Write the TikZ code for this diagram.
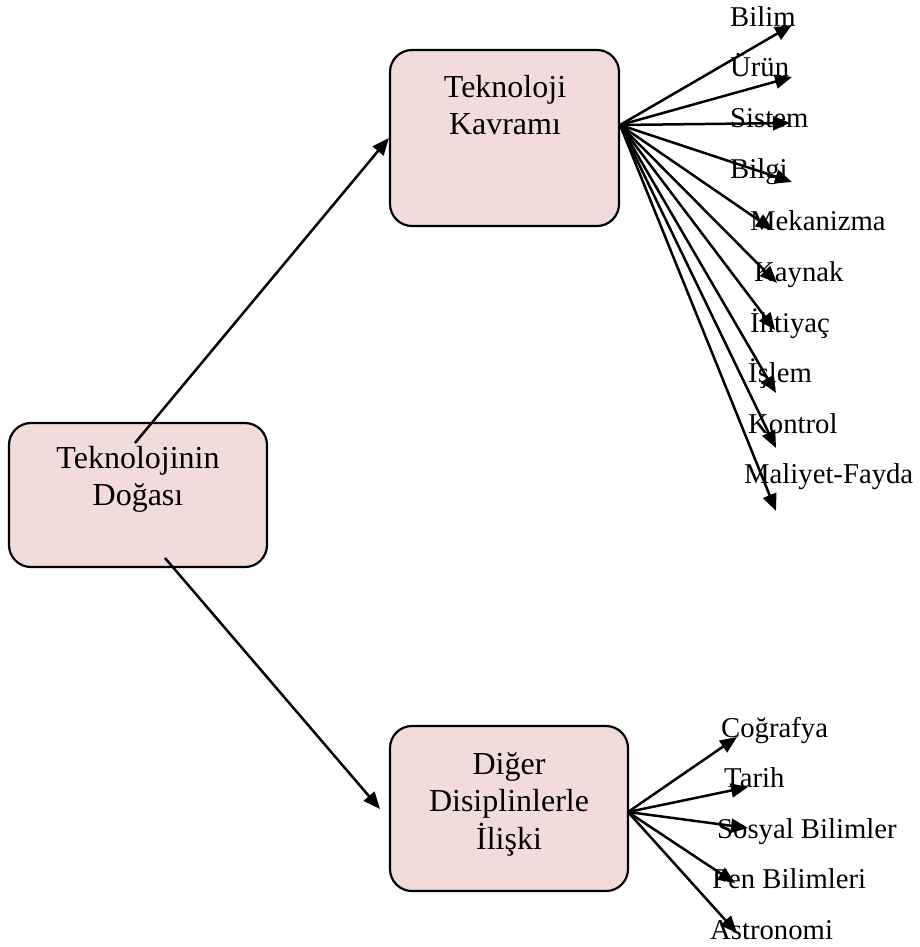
\documentclass[tikz,border=0pt]{standalone}
\usepackage{fontspec}
\setmainfont{Liberation Serif}
\usetikzlibrary{arrows.meta}
\definecolor{boxfill}{RGB}{242,220,219}
\begin{document}
\begin{tikzpicture}[x=1pt,y=-1pt,
  box/.style={draw=black, line width=2.2pt, fill=boxfill, rounded corners=22pt, inner sep=0pt},
  boxtext/.style={anchor=north, inner sep=0pt, align=center, font=\fontsize{32}{37.5}\selectfont},
  leaf/.style={anchor=base west, inner sep=0pt, font=\fontsize{28.7}{34}\selectfont},
  link/.style={line width=2.5pt, -{Triangle[length=17pt,width=14pt]}}]
\useasboundingbox (0,0) rectangle (920,947);

% main boxes
\node[box, minimum width=258pt, minimum height=144pt] (doga) at (138,495) {};
\node[box, minimum width=229pt, minimum height=176pt] (kavram) at (504.5,138) {};
\node[box, minimum width=238pt, minimum height=165pt] (iliski) at (509,808.5) {};

\node[boxtext] (dogat) at (138,446) {Teknolojinin\\Doğası};
\node[boxtext] (kavramt) at (505,75) {Teknoloji\\Kavramı};
\node[boxtext] (iliskit) at (509,752) {Diğer\\Disiplinlerle\\İlişki};

% links from the root box
\coordinate (a1s) at (135,443);
\coordinate (a2s) at (165,558);
\coordinate (a2e) at (380,809);
\draw[link] (a1s) -- (kavram.west);
\draw[link] (a2s) -- (a2e);

% concepts of technology
\coordinate (kout) at (620,125);
\node[leaf] (bilim) at (730,27) {Bilim};
\node[leaf] (urun) at (730,77) {Ürün};
\node[leaf] (sistem) at (730,128) {Sistem};
\node[leaf] (bilgi) at (730,178) {Bilgi};
\node[leaf] (mekanizma) at (750,230) {Mekanizma};
\node[leaf] (kaynak) at (754,281) {Kaynak};
\node[leaf] (ihtiyac) at (750,332) {İhtiyaç};
\node[leaf] (islem) at (748,382) {İşlem};
\node[leaf] (kontrol) at (748,433) {Kontrol};
\node[leaf] (maliyet) at (744,483) {Maliyet-Fayda};

\coordinate (t1) at (792,25);
\coordinate (t2) at (792,77);
\coordinate (t3) at (790,123);
\coordinate (t4) at (792,182);
\coordinate (t5) at (773,230);
\coordinate (t6) at (777,283);
\coordinate (t7) at (775,330);
\coordinate (t8) at (776,393);
\coordinate (t9) at (776,448);
\coordinate (t10) at (776,511);
\foreach \t in {t1,t2,t3,t4,t5,t6,t7,t8,t9,t10}
  \draw[link] (kout) -- (\t);

% related disciplines
\coordinate (dout) at (628,812);
\node[leaf] (cografya) at (721,737) {Coğrafya};
\node[leaf] (tarih) at (724,787) {Tarih};
\node[leaf] (sosyal) at (717,838) {Sosyal Bilimler};
\node[leaf] (fen) at (712,888) {Fen Bilimleri};
\node[leaf] (astronomi) at (710,939) {Astronomi};

\coordinate (d1) at (737,737);
\coordinate (d2) at (748,787);
\coordinate (d3) at (748,828);
\coordinate (d4) at (735,883);
\coordinate (d5) at (737,933);
\foreach \t in {d1,d2,d3,d4,d5}
  \draw[link] (dout) -- (\t);
\end{tikzpicture}
\end{document}
